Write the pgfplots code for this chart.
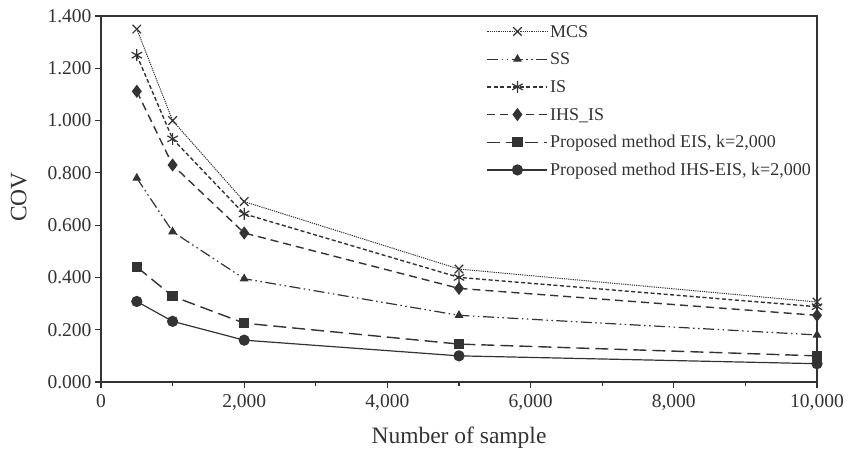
\documentclass[border=0pt]{standalone}
\usepackage{fontspec}
\setmainfont{Liberation Serif}
\usepackage{pgfplots}
\pgfplotsset{compat=1.18}

\definecolor{ink}{gray}{0.2}

\begin{document}
\begin{tikzpicture}
\begin{axis}[
  scale only axis,
  width=716pt, height=366pt,
  xmin=0, xmax=10000,
  ymin=0, ymax=1.4,
  xtick={0,2000,...,10000},
  minor x tick num=1,
  ytick={0,0.2,...,1.4},
  scaled x ticks=false,
  scaled y ticks=false,
  tick align=outside,
  xtick pos=bottom, ytick pos=left,
  major tick length=6pt, minor tick length=4pt,
  axis line style={ink, line width=1.3pt},
  tick style={ink, line width=1.2pt},
  x tick label style={/pgf/number format/1000 sep={,}, yshift=-3pt},
  y tick label style={/pgf/number format/fixed, /pgf/number format/fixed zerofill, /pgf/number format/precision=3},
  /pgf/number format/assume math mode=true,
  tick label style={font=\fontsize{19.5}{22}\selectfont, text=ink},
  label style={font=\fontsize{23.5}{26}\selectfont, text=ink},
  xlabel={Number of sample},
  ylabel={COV},
  xlabel style={at={(axis description cs:0.5,-0.1667)}, anchor=base},
  ylabel style={at={(axis description cs:-0.1043,0.505)}, anchor=base},
  every axis plot/.append style={ink, line width=1.2pt},
  legend style={at={(1,1)}, anchor=north east, draw=none, fill=none,
    font=\fontsize{18}{20}\selectfont, text=ink,
    row sep=9.2pt, inner ysep=6pt, inner xsep=4pt,
    cells={anchor=west, text height=13pt, text depth=4pt}},
  legend image code/.code={
    \draw[mark repeat=2, mark phase=2] plot coordinates {(0pt,0pt) (30pt,0pt) (60pt,0pt)};},
]
\addplot[densely dotted, line width=1pt, mark=x, mark size=6pt, mark options={solid, line width=1.2pt}]
  coordinates {(500,1.35) (1000,1.00) (2000,0.69) (5000,0.432) (10000,0.306)};
\addlegendentry{MCS}
\addplot[dash pattern=on 11pt off 3.5pt on 1.5pt off 3.5pt on 1.5pt off 3.5pt, mark=triangle*, mark size=4pt, mark options={solid}]
  coordinates {(500,0.78) (1000,0.575) (2000,0.395) (5000,0.255) (10000,0.18)};
\addlegendentry{SS}
\addplot[dash pattern=on 4pt off 2.5pt, line width=1.4pt, mark=asterisk, mark size=6pt, mark options={solid, line width=1.2pt}]
  coordinates {(500,1.25) (1000,0.93) (2000,0.643) (5000,0.40) (10000,0.288)};
\addlegendentry{IS}
\addplot[dash pattern=on 8pt off 5pt, line width=1.4pt, mark=diamond*, mark size=5.5pt, mark options={solid}]
  coordinates {(500,1.112) (1000,0.83) (2000,0.57) (5000,0.358) (10000,0.255)};
\addlegendentry{IHS\_IS}
\addplot[dash pattern=on 13pt off 6pt, line width=1.4pt, mark=square*, mark size=4.5pt, mark options={solid}]
  coordinates {(500,0.44) (1000,0.328) (2000,0.225) (5000,0.145) (10000,0.10)};
\addlegendentry{Proposed method EIS, k=2,000}
\addplot[solid, mark=*, mark size=5pt]
  coordinates {(500,0.308) (1000,0.232) (2000,0.16) (5000,0.10) (10000,0.07)};
\addlegendentry{Proposed method IHS-EIS, k=2,000}
\end{axis}
\path (current axis.south west) ++(-101pt,-66pt) rectangle ++(859pt,448pt);
\end{tikzpicture}
\end{document}
